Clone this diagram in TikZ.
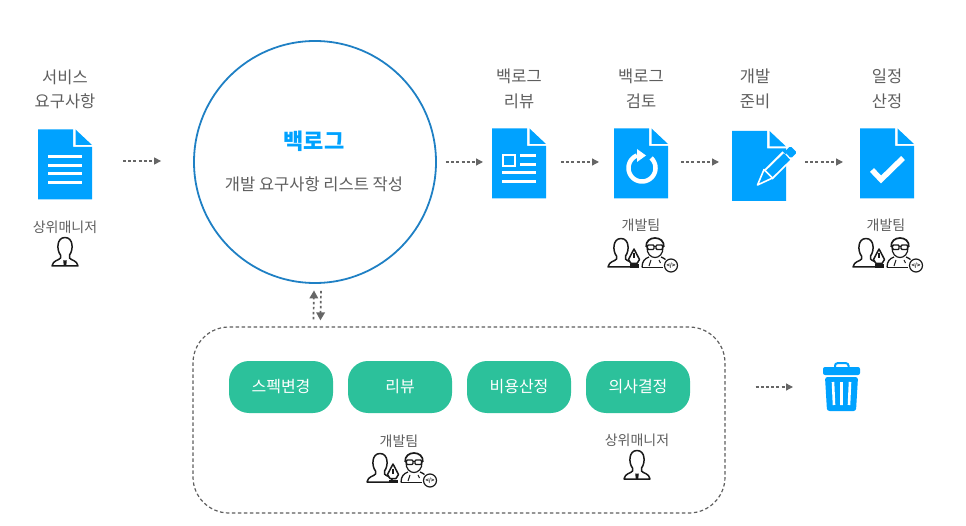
\documentclass[tikz,border=0pt]{standalone}
\usepackage{fontspec}
\setmainfont{Noto Sans CJK KR}
\usetikzlibrary{arrows.meta,calc}
\definecolor{docblue}{HTML}{00A2FF}
\definecolor{ringblue}{HTML}{1F80C4}
\definecolor{btngreen}{HTML}{2CC19B}
\definecolor{txtgray}{HTML}{5E5E5E}
\definecolor{flowgray}{HTML}{666666}
\definecolor{iconink}{HTML}{1A1A1A}
\tikzset{
  x=1pt,y=-1pt,
  flow/.style={draw=flowgray,line width=1.3pt,dash pattern=on 3pt off 2.2pt,-{Triangle[length=7pt,width=7pt,flowgray]}},
  linkflow/.style={flow,line width=1.7pt,dash pattern=on 2.5pt off 2.5pt,-{Triangle[length=8pt,width=8.5pt,flowgray]}},
  title/.style={text=txtgray,font=\fontsize{16.5}{19}\selectfont,inner sep=0pt},
  role/.style={text=txtgray,font=\fontsize{14}{16}\selectfont,inner sep=0pt},
  docbox/.style={minimum width=54pt,minimum height=70pt,inner sep=0pt,outer sep=0pt},
  iconbox/.style={minimum width=26pt,minimum height=30pt,inner sep=0pt,outer sep=0pt},
  btn/.style={fill=btngreen,rounded corners=20pt,minimum width=104pt,minimum height=52pt,inner sep=0pt,text=white,font=\fontsize{16}{18}\selectfont},
  glyph/.style={draw=white,line width=3pt},
  docbody/.pic={
    \fill[docblue] (-27,-35) -- (8,-35) -- (8,-17.5) -- (27,-17.5) -- (27,35) -- (-27,35) -- cycle;
    \fill[docblue] (10.5,-35) -- (27,-19.5) -- (10.5,-19.5) -- cycle;
  },
  bust/.pic={
    \draw[iconink,line width=1.5pt,line join=round]
      (-4.5,3) .. controls (-8.5,-2) and (-8.5,-14.5) .. (0,-14.5)
      .. controls (8.5,-14.5) and (8.5,-2) .. (4.5,3)
      -- (4.5,6) .. controls (6,8.5) and (12,8) .. (13,14)
      -- (-13,14) .. controls (-12,8) and (-6,8.5) .. (-4.5,6) -- cycle;
  },
  person/.pic={
    \pic at (0,0) {bust};
    \fill[iconink] (-1.8,8.5) -- (1.8,8.5) -- (1.2,14) -- (-1.2,14) -- cycle;
  },
  nib/.pic={
    \draw[iconink,fill=white,line width=1.5pt,line join=round]
      (0,-9.5) -- (5.5,1) -- (3,5) -- (-3,5) -- (-5.5,1) -- cycle;
    \draw[iconink,line width=1.2pt] (0,-5) -- (0,0);
    \fill[iconink] (-4.5,6) rectangle (4.5,9.5);
  },
  dev/.pic={
    \draw[iconink,line width=1.3pt,line join=round]
      (-13,14.5) .. controls (-13,8) and (-10,5.5) .. (-6,4) (6,4) .. controls (10,5.5) and (13,8) .. (13,11);
    \draw[iconink,line width=1.3pt] (-13,14.5) -- (8,14.5);
    \draw[iconink,line width=1.2pt] (-8,-6) .. controls (-8.5,8) and (8.5,8) .. (8,-6);
    \draw[iconink,line width=1.7pt] (-8.8,-6) .. controls (-10,-18) and (10,-18) .. (8.8,-6);
    \draw[iconink,line width=1.4pt,rounded corners=1pt] (-7.5,-8) rectangle (-1,-3.5) (1,-8) rectangle (7.5,-3.5);
    \draw[iconink,line width=1.2pt] (-1,-6.5) -- (1,-6.5) (-9,-7) -- (-7.5,-7) (7.5,-7) -- (9,-7);
    \draw[iconink,line width=1pt] (-4,7) -- (-6,13) (4,7) -- (5.5,10);
    \fill[white] (16,12.5) circle[radius=8pt];
    \draw[iconink,line width=1.2pt] (16,12.5) circle[radius=6.5pt];
    \node[inner sep=0pt,text=iconink,font=\fontsize{5.5}{6}\selectfont\bfseries] at (16,12.5) {</>};
  },
  team/.pic={
    \pic at (0,0) {bust};
    \pic at (13,5.5) {nib};
    \pic at (34,0) {dev};
  }
}
\begin{document}
\begin{tikzpicture}
\useasboundingbox (0,0) rectangle (966,526);

% titles
\node[title] (t1a) at (65,77) {서비스};
\node[title] (t1b) at (65,101) {요구사항};
\node[title] (t2a) at (519,76) {백로그};
\node[title] (t2b) at (519,101) {리뷰};
\node[title] (t3a) at (641,76) {백로그};
\node[title] (t3b) at (641,101) {검토};
\node[title] (t4a) at (755,76) {개발};
\node[title] (t4b) at (755,101) {준비};
\node[title] (t5a) at (887,76) {일정};
\node[title] (t5b) at (887,101) {산정};

% documents
\node[docbox] (d1) at (65,164.5) {};
\pic at (d1) {docbody};
\draw[glyph] (48,157) -- (82,157) (48,165.3) -- (82,165.3) (48,174) -- (82,174) (48,183) -- (82,183);

\node[docbox] (d2) at (519,163.5) {};
\pic at (d2) {docbody};
\draw[white,line width=2pt] (503,155) rectangle (515,166);
\draw[glyph] (520,156) -- (536,156) (520,165) -- (536,165) (502,173) -- (536,173) (502,182) -- (536,182);

\node[docbox] (d3) at (641,163.5) {};
\pic at (d3) {docbody};
\draw[white,line width=4.5pt] plot[domain=-48:248,samples=50] ({642+13.5*cos(\x)},{168+13.5*sin(\x)});
\fill[white] (637,149) -- (646,155.5) -- (637,162) -- cycle;

\node[docbox] (d4) at (759,166) {};
\pic at (d4) {docbody};
\draw[white,line width=13pt] (768,175) -- (787,156);
\draw[docblue,line width=9pt] (768,175) -- (787,156.5);
\fill[docblue,rounded corners=1.5pt] (784.6,151.6) -- (790.4,146) -- (797,152.5) -- (791,158.4) -- cycle;
\draw[white,fill=docblue,line width=1.6pt,line join=round] (757.5,185) -- (764,169.5) -- (772.5,178) -- cycle;

\node[docbox] (d5) at (887,163.5) {};
\pic at (d5) {docbody};
\draw[white,line width=5.5pt] (872,170) -- (881,179.5) -- (903,158);

% backlog circle
\node[circle,draw=ringblue,line width=1.8pt,minimum size=242pt,inner sep=0pt] (c) at (315,162) {};
\node[inner sep=0pt,text=docblue,font=\fontsize{22}{24}\selectfont\bfseries] (ct) at (314,141) {백로그};
\node[inner sep=0pt,text=txtgray,font=\fontsize{16.5}{19}\selectfont] (cs) at (314,184) {개발 요구사항 리스트 작성};

% flow arrows
\draw[flow] ($(d1.east)+(31,-3.5)$) -- ($(c.west)+(-32,-1)$);
\draw[flow] ($(c.east)+(9,0)$) -- ($(d2.west)+(-9,-1.5)$);
\draw[flow] ($(d2.east)+(15,-1.5)$) -- ($(d3.west)+(-15,-1.5)$);
\draw[flow] ($(d3.east)+(13,-1.5)$) -- ($(d4.west)+(-13,-4)$);
\draw[flow] ($(d4.east)+(19,-4)$) -- ($(d5.west)+(-17,-1.5)$);

% roles
\node[role] (r1) at (65,227) {상위매니저};
\node[iconbox] (p1) at (65,252) {};
\pic at (p1) {person};
\node[role] (r3) at (641,225) {개발팀};
\node[iconbox] (p3) at (621,253) {};
\pic at (p3) {team};
\node[role] (r5) at (886,225) {개발팀};
\node[iconbox] (p5) at (866,253) {};
\pic at (p5) {team};

% review box
\node[draw=txtgray,line width=1.2pt,dash pattern=on 3.5pt off 2.5pt,rounded corners=36pt,minimum width=532pt,minimum height=186pt,inner sep=0pt] (box) at (459,420) {};
\node[btn] (b1) at (281,387) {스펙변경};
\node[btn] (b2) at (400,387) {리뷰};
\node[btn] (b3) at (519,387) {비용산정};
\node[btn] (b4) at (638,387) {의사결정};

\node[role] (r6) at (399,441) {개발팀};
\node[iconbox] (p6) at (380,468) {};
\pic at (p6) {team};
\node[role] (r7) at (637,440) {상위매니저};
\node[iconbox] (p7) at (637,465) {};
\pic at (p7) {person};

% two-way link
\draw[linkflow] ($(box.north west)+(121,-7)$) -- ($(c.south)+(-1,6.5)$);
\draw[linkflow] ($(c.south)+(6,7)$) -- ($(box.north west)+(128,-6)$);

% trash
\node[minimum width=37pt,minimum height=50pt,inner sep=0pt,outer sep=0pt] (bin) at (841.5,387) {};
\draw[flow] ($(box.east)+(30,-33)$) -- ($(bin.west)+(-30,0)$);
\draw[docblue,line width=2pt,rounded corners=2.5pt] (835,368) -- (835,363.2) -- (848.5,363.2) -- (848.5,368);
\fill[docblue,rounded corners=2pt] (823,367) rectangle (860,375);
\fill[docblue,rounded corners=2.5pt] (825,377) -- (858,377) -- (856,411) -- (827,411) -- cycle;
\draw[white,line width=2.6pt] (833,382) -- (834,405) (841.5,382) -- (841.5,405) (850,382) -- (849,405);
\end{tikzpicture}
\end{document}
